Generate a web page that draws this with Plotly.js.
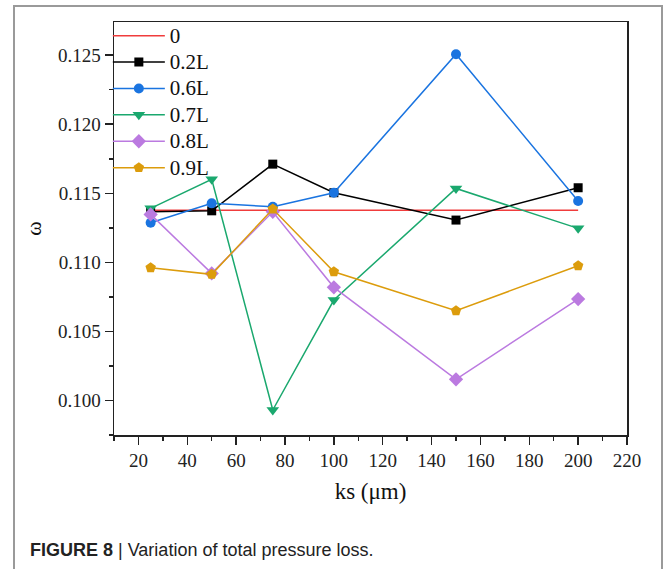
<!DOCTYPE html>
<html>
<head>
<meta charset="utf-8">
<script src="https://cdn.plot.ly/plotly-3.0.1.min.js"></script>
<style>
  html, body { margin: 0; padding: 0; background: #fff; }
  #frame { position: absolute; left: 13px; top: 5px; width: 646px; height: 580px;
           border-left: 2px solid #9a9a9a; border-top: 2px solid #9a9a9a; border-right: 2px solid #9a9a9a; }
  #chart { position: absolute; left: 0; top: 0; width: 665px; height: 569px; }
</style>
</head>
<body>
<div id="frame"></div>
<div id="chart"></div>
<script>
const ks = [25, 50, 75, 100, 150, 200];
const seriesNames = ["0", "0.2L", "0.6L", "0.7L", "0.8L", "0.9L"];
const omega0   = [0.11378, 0.11378, 0.11378, 0.11378, 0.11378, 0.11378];
const omega02L = [0.11366, 0.11373, 0.11711, 0.11504, 0.11306, 0.11540];
const omega06L = [0.11287, 0.11427, 0.11402, 0.11504, 0.12507, 0.11444];
const omega07L = [0.11391, 0.11601, 0.09931, 0.10727, 0.11535, 0.11246];
const omega08L = [0.11347, 0.10920, 0.11366, 0.10819, 0.10153, 0.10734];
const omega09L = [0.10961, 0.10913, 0.11386, 0.10932, 0.10650, 0.10975];

const seriesValues = [omega0, omega02L, omega06L, omega07L, omega08L, omega09L];
const colors = ["#f03c3c", "#000000", "#1a74e0", "#1aa86e", "#bb7ae0", "#dc9c0c"];
const symbols = [null, "square", "circle", "triangle-down", "diamond", "pentagon"];
const sizes = [0, 9, 10, 11, 11, 11];

const traces = seriesValues.map((vals, i) => {
  const t = {
    x: ks, y: vals, type: "scatter",
    name: '<span style="font-size:21px">' + seriesNames[i] + '</span>',
    mode: symbols[i] ? "lines+markers" : "lines",
    line: { color: colors[i], width: 1.5 },
    cliponaxis: false
  };
  if (symbols[i]) t.marker = { symbol: symbols[i], size: sizes[i], color: colors[i] };
  return t;
});

const serif = "'Liberation Serif', 'Times New Roman', serif";
const layout = {
  width: 665, height: 569,
  margin: { l: 114, r: 38, t: 22, b: 134 },
  paper_bgcolor: "rgba(0,0,0,0)", plot_bgcolor: "#fff",
  showlegend: true,
  legend: {
    x: -0.012, y: 1.011, xanchor: "left", yanchor: "top",
    bgcolor: "rgba(0,0,0,0)", borderwidth: 0,
    font: { family: serif, size: 18, color: "#111" },
    itemwidth: 52, tracegroupgap: 0
  },
  xaxis: {
    range: [10, 220], tick0: 0, dtick: 20,
    ticks: "outside", ticklen: 8, tickwidth: 1.5, tickcolor: "#222",
    minor: { ticks: "outside", ticklen: 4, dtick: 10, tickwidth: 1.5, tickcolor: "#222" },
    showline: true, linecolor: "#222", linewidth: 1.5, mirror: true,
    showgrid: false, zeroline: false,
    tickfont: { family: serif, size: 19, color: "#222" },
    title: { text: "ks (μm)", font: { family: serif, size: 23, color: "#111" }, standoff: 12 }
  },
  yaxis: {
    range: [0.0975, 0.1274], tick0: 0.1, dtick: 0.005, tickformat: ".3f",
    ticks: "outside", ticklen: 8, tickwidth: 1.5, tickcolor: "#222",
    minor: { ticks: "outside", ticklen: 4, dtick: 0.0025, tickwidth: 1.5, tickcolor: "#222" },
    showline: true, linecolor: "#222", linewidth: 1.5, mirror: true,
    showgrid: false, zeroline: false,
    tickfont: { family: serif, size: 19, color: "#222" },
    title: { text: "ω", font: { family: serif, size: 22, color: "#111" }, standoff: 10 }
  },
  annotations: [{
    xref: "paper", yref: "paper", x: -0.168, y: -0.278, xanchor: "left", yanchor: "middle",
    showarrow: false, align: "left",
    text: "<b>FIGURE 8</b> | Variation of total pressure loss.",
    font: { family: "'Liberation Sans', Arial, sans-serif", size: 18, color: "#222" }
  }]
};

Plotly.newPlot("chart", traces, layout, { displayModeBar: false, staticPlot: true });
</script>
</body>
</html>
